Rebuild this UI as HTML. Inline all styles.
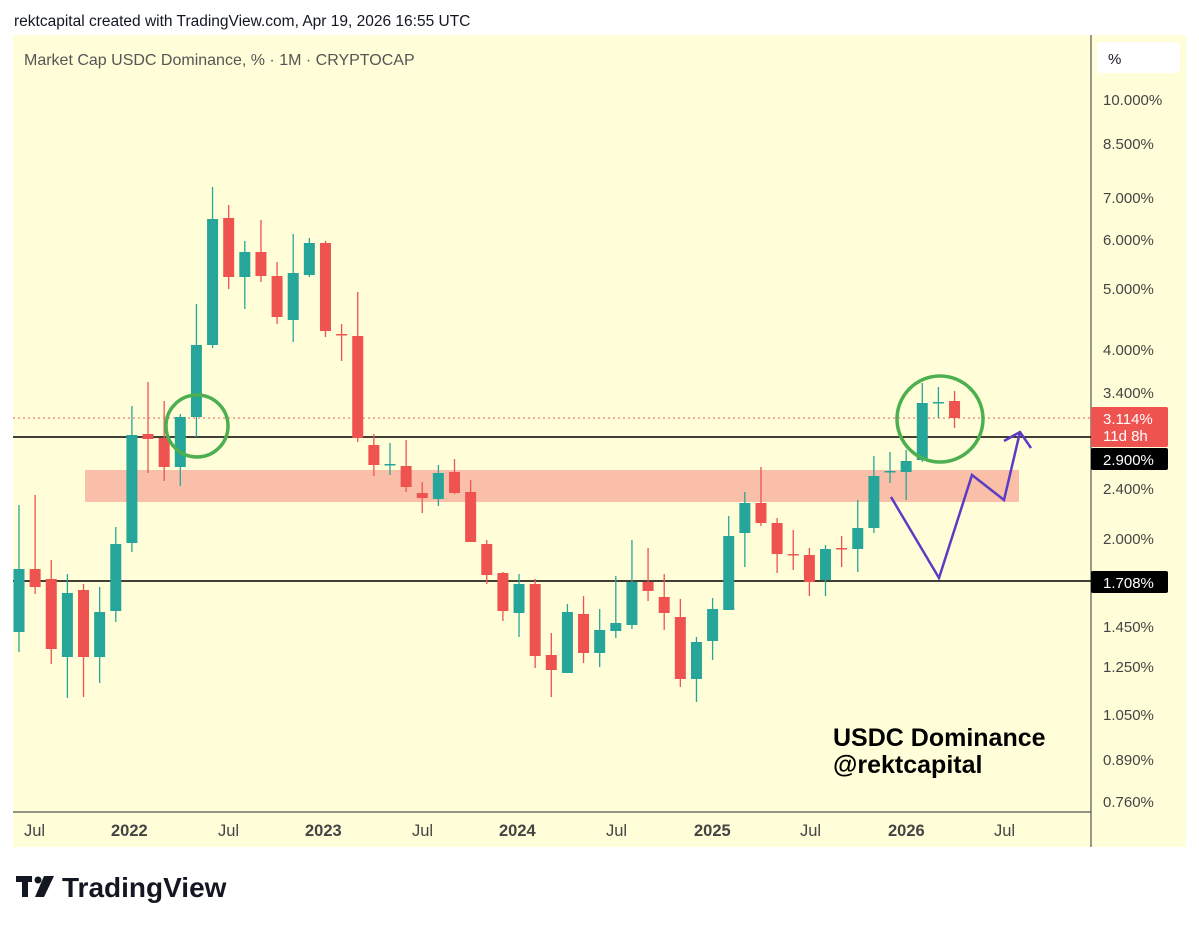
<!DOCTYPE html>
<html><head><meta charset="utf-8"><style>
body{margin:0;background:#fff;width:1199px;height:927px;overflow:hidden;font-family:"Liberation Sans",sans-serif;}
svg{position:absolute;left:0;top:0}
</style></head><body>
<svg id="s" width="1199" height="927" xmlns="http://www.w3.org/2000/svg" font-family="Liberation Sans, sans-serif">
<text x="14" y="26" font-size="15.5" fill="#131722">rektcapital created with TradingView.com, Apr 19, 2026 16:55 UTC</text>
<rect x="13" y="35" width="1173" height="812" fill="#fffed8"/>
<line x1="1091" y1="35" x2="1091" y2="847" stroke="#555" stroke-width="1.2"/>
<line x1="13" y1="812" x2="1091" y2="812" stroke="#555" stroke-width="1.2"/>
<text x="24" y="65" font-size="16" fill="#555">Market Cap USDC Dominance, % · 1M · CRYPTOCAP</text>
<rect x="1097" y="42" width="83" height="31" rx="4" fill="#fff"/>
<text x="1108" y="64" font-size="15" fill="#131722">%</text>
<rect x="85" y="470" width="934" height="32" fill="#f9bfa8"/>
<line x1="13" y1="418" x2="1091" y2="418" stroke="#e06060" stroke-width="1" stroke-dasharray="2,3"/>
<line x1="13" y1="437" x2="1091" y2="437" stroke="#000" stroke-width="1.5"/>
<line x1="13" y1="581" x2="1091" y2="581" stroke="#000" stroke-width="1.5"/>
<g id="c"></g>
<circle cx="197" cy="426" r="31" fill="none" stroke="#4caf50" stroke-width="3.5"/>
<circle cx="940" cy="419" r="43" fill="none" stroke="#4caf50" stroke-width="3.5"/>
<polyline points="891,497 939,578 972,475 1004,500 1020,432" fill="none" stroke="#5b3cc4" stroke-width="2.5"/>
<polyline points="1004,441 1020,432 1031,448" fill="none" stroke="#5b3cc4" stroke-width="2.5"/>
<g font-size="15" fill="#444">
<text x="1103" y="105">10.000%</text>
<text x="1103" y="149">8.500%</text>
<text x="1103" y="203">7.000%</text>
<text x="1103" y="245">6.000%</text>
<text x="1103" y="294">5.000%</text>
<text x="1103" y="355">4.000%</text>
<text x="1103" y="398">3.400%</text>
<text x="1103" y="494">2.400%</text>
<text x="1103" y="544">2.000%</text>
<text x="1103" y="632">1.450%</text>
<text x="1103" y="672">1.250%</text>
<text x="1103" y="720">1.050%</text>
<text x="1103" y="765">0.890%</text>
<text x="1103" y="807">0.760%</text>
</g>
<rect x="1091" y="407" width="77" height="40" rx="2" fill="#ef5350"/>
<text x="1103" y="424" font-size="15" fill="#fff">3.114%</text>
<text x="1103" y="441" font-size="15" fill="#fff">11d 8h</text>
<rect x="1091" y="448" width="77" height="22" rx="2" fill="#000"/>
<text x="1103" y="465" font-size="15" fill="#fff">2.900%</text>
<rect x="1091" y="571" width="77" height="22" rx="2" fill="#000"/>
<text x="1103" y="588" font-size="15" fill="#fff">1.708%</text>
<g font-size="16.5" fill="#444">
<text x="24" y="836">Jul</text>
<text x="111" y="836" font-weight="bold">2022</text>
<text x="218" y="836">Jul</text>
<text x="305" y="836" font-weight="bold">2023</text>
<text x="412" y="836">Jul</text>
<text x="499" y="836" font-weight="bold">2024</text>
<text x="606" y="836">Jul</text>
<text x="694" y="836" font-weight="bold">2025</text>
<text x="800" y="836">Jul</text>
<text x="888" y="836" font-weight="bold">2026</text>
<text x="994" y="836">Jul</text>
</g>
<text x="833" y="746" font-size="25" font-weight="bold" fill="#000">USDC Dominance</text>
<text x="833" y="773" font-size="25" font-weight="bold" fill="#000">@rektcapital</text>
<g fill="#131722">
<rect x="16" y="876" width="16" height="6"/><rect x="22" y="876" width="6" height="21"/>
<circle cx="38" cy="880" r="3.5"/>
<polygon points="44,876 54,876 44,897 35,897"/>
</g>
<text x="62" y="897" font-size="28" font-weight="bold" fill="#131722">TradingView</text>
</svg>
<script>
var d=[
[505,569,632,652,'g'],[495,569,587,594,'r'],[560,579,649,664,'r'],[574,593,657,698,'g'],[584,590,657,697,'r'],[587,612,657,683,'g'],
[527,544,611,622,'g'],[406,435,543,552,'g'],[382,434,439,473,'r'],[401,438,467,481,'r'],[414,417,467,486,'g'],[304,345,417,437,'g'],
[187,219,345,348,'g'],[205,218,277,289,'r'],[241,252,277,309,'g'],[220,252,276,282,'r'],[262,276,317,324,'r'],[234,273,320,342,'g'],
[238,243,275,277,'g'],[241,243,331,337,'r'],[324,334,334,361,'r'],[292,336,438,442,'r'],[434,445,465,476,'r'],[443,464,464,475,'g'],
[440,466,487,492,'r'],[482,493,498,513,'r'],[465,473,499,506,'g'],[459,472,493,494,'r'],[480,492,542,542,'r'],[540,544,575,584,'r'],
[572,573,611,621,'r'],[574,584,613,637,'g'],[579,584,656,668,'r'],[633,655,670,697,'r'],[604,612,673,673,'g'],[596,614,653,663,'r'],
[609,630,653,667,'g'],[576,623,631,638,'g'],[540,582,625,629,'g'],[548,582,591,601,'r'],[574,597,613,630,'r'],[599,617,679,687,'r'],
[637,642,679,702,'g'],[598,609,641,660,'g'],[516,536,610,610,'g'],[492,503,533,567,'g'],[467,503,523,526,'r'],[518,523,554,573,'r'],
[530,554,554,570,'r'],[548,555,582,596,'r'],[545,549,580,596,'g'],[536,548,548,567,'r'],[500,528,549,572,'g'],[456,476,528,533,'g'],
[452,471,471,483,'g'],[450,461,472,500,'g'],[383,403,460,462,'g'],[387,402,402,418,'g'],[391,401,418,428,'r']];
var g=document.getElementById('c'),h='';
d.forEach(function(c,i){var x=19+i*16.13,col=c[4]=='g'?'#26a69a':'#ef5350';
h+='<line x1="'+x+'" y1="'+c[0]+'" x2="'+x+'" y2="'+c[3]+'" stroke="'+col+'" stroke-width="1.3"/>';
var bh=Math.max(c[2]-c[1],1.5);h+='<rect x="'+(x-5.5)+'" y="'+c[1]+'" width="11" height="'+bh+'" fill="'+col+'"/>';});
g.innerHTML=h;
</script>
</body></html>
